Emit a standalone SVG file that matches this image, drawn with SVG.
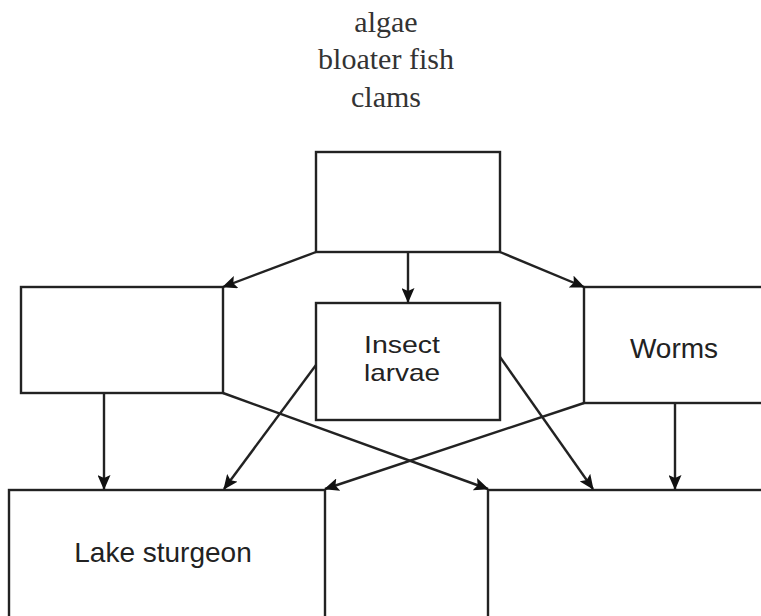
<svg xmlns="http://www.w3.org/2000/svg" width="761" height="616" viewBox="0 0 761 616">
<style>
.box{fill:#fff;stroke:#222;stroke-width:2.4}
.lbl{font-family:"Liberation Sans",Arial,sans-serif;font-size:28px;fill:#222;text-anchor:middle}
.sm{font-size:24px}
.ser{font-family:"Liberation Serif","Times New Roman",serif;font-size:30px;fill:#333;text-anchor:middle}
.con line{stroke:#222;stroke-width:2.4;marker-end:url(#ah)}
</style>
<defs>
<marker id="ah" markerUnits="userSpaceOnUse" markerWidth="15" markerHeight="13" refX="14" refY="6.5" orient="auto">
<path d="M0,0 L15,6.5 L0,13 L3,6.5 z" fill="#111"/>
</marker>
</defs>
<rect width="761" height="616" fill="#fff"/>
<g id="title">
<text class="ser" x="386" y="32">algae</text>
<text class="ser" x="386" y="69">bloater fish</text>
<text class="ser" x="386" y="107">clams</text>
</g>
<g id="n-top"><rect class="box" x="316" y="152" width="184" height="100"/></g>
<g id="n-left"><rect class="box" x="21" y="287" width="202" height="106"/></g>
<g id="n-insect"><rect class="box" x="316" y="303" width="184" height="117"/>
<text class="lbl sm" x="402" y="353" textLength="76" lengthAdjust="spacingAndGlyphs">Insect</text>
<text class="lbl sm" x="402" y="381" textLength="76" lengthAdjust="spacingAndGlyphs">larvae</text></g>
<g id="n-worms"><rect class="box" x="584" y="287" width="200" height="116"/>
<text class="lbl" x="674" y="358">Worms</text></g>
<g id="n-sturgeon"><rect class="box" x="9" y="490" width="316" height="140"/>
<text class="lbl" x="163" y="562">Lake sturgeon</text></g>
<g id="n-right"><rect class="box" x="488" y="490" width="300" height="140"/></g>
<g id="connectors" class="con">
<line x1="316" y1="252" x2="223" y2="287"/>
<line x1="408" y1="252" x2="408" y2="302"/>
<line x1="500" y1="252" x2="584" y2="287"/>
<line x1="104" y1="393" x2="104" y2="489"/>
<line x1="223" y1="393" x2="488" y2="489"/>
<line x1="316" y1="365" x2="224" y2="489"/>
<line x1="500" y1="357" x2="593" y2="489"/>
<line x1="584" y1="403" x2="325" y2="489"/>
<line x1="675" y1="403" x2="675" y2="489"/>
</g>
</svg>
